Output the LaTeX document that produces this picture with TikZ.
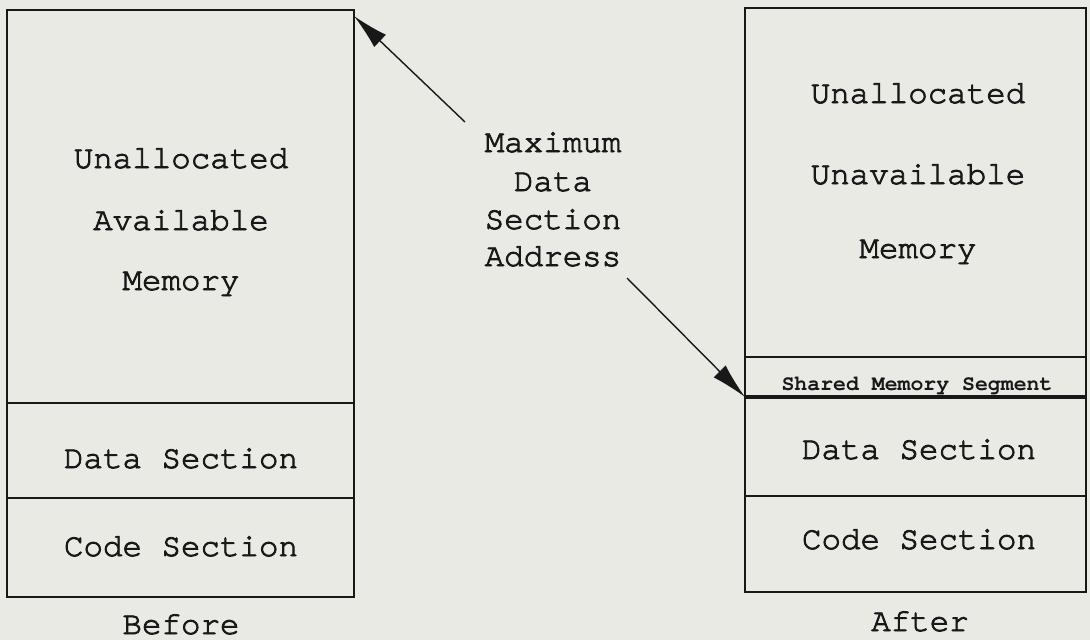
\documentclass[tikz,border=0pt]{standalone}
\usepackage{fontspec}
\newfontfamily\tw{texgyrecursor-regular}[Extension=.otf,FakeBold=2.6]
\newfontfamily\twsmall{texgyrecursor-bold}[Extension=.otf]
\usetikzlibrary{arrows.meta}
\definecolor{paper}{RGB}{233,234,228}
\definecolor{ink}{RGB}{24,24,24}
\begin{document}
\begin{tikzpicture}[x=1pt,y=-1pt,
  sect/.style={draw=ink, line width=2.4pt, rectangle, inner sep=0pt, outer sep=0pt},
  lbl/.style={font=\tw\fontsize{32.5}{32.5}\selectfont, text=ink, inner sep=0pt, anchor=base},
  smalllbl/.style={font=\twsmall\fontsize{21.5}{21.5}\selectfont, text=ink, inner sep=0pt, anchor=base},
  arr/.style={draw=ink, line width=1.4pt, -{Latex[length=36pt,width=17pt]}}]
\fill[paper] (0,0) rectangle (1090,640);
\useasboundingbox (0,0) rectangle (1090,640);
% Before box
\node[sect, minimum width=347pt, minimum height=393pt] (Lun) at (180.5,206.5) {};
\node[sect, minimum width=347pt, minimum height=95pt] (Ldata) at (180.5,450.5) {};
\node[sect, minimum width=347pt, minimum height=99pt] (Lcode) at (180.5,547.5) {};
\node[lbl] (lu1) at (181,168) {Unallocated};
\node[lbl] (lu2) at (181,230) {Available};
\node[lbl] (lu3) at (181,290) {Memory};
\node[lbl] (ld) at (181,468) {Data Section};
\node[lbl] (lc) at (181,556) {Code Section};
\node[lbl] (lb) at (181,634) {Before};
% After box
\node[sect, minimum width=341pt, minimum height=349pt] (Run) at (915.5,182.5) {};
\node[sect, minimum width=341pt, minimum height=40pt] (Rsh) at (915.5,377) {};
\node[sect, minimum width=341pt, minimum height=99pt] (Rdata) at (915.5,446.5) {};
\node[sect, minimum width=341pt, minimum height=96pt] (Rcode) at (915.5,544) {};
\draw[ink, line width=4.5pt] (Rsh.south west) -- (Rsh.south east);
\node[lbl] (ru1) at (918,103) {Unallocated};
\node[lbl] (ru2) at (918,184) {Unavailable};
\node[lbl] (ru3) at (918,258) {Memory};
\node[smalllbl] (rs) at (917,390) {Shared Memory Segment};
\node[lbl] (rd) at (919,459) {Data Section};
\node[lbl] (rc) at (919,549) {Code Section};
\node[lbl] (ra) at (920,631) {After};
% middle label
\node[lbl] (m1) at (553,152) {Maximum};
\node[lbl] (m2) at (553,191) {Data};
\node[lbl] (m3) at (553,229) {Section};
\node[lbl] (m4) at (553,266) {Address};
\coordinate (t1) at (465,122);
\coordinate (t2) at (627,278);
\draw[arr] (t1) -- ([yshift=-6pt]Lun.north east);
\draw[arr] (t2) -- (Rdata.north west);
\end{tikzpicture}
\end{document}
